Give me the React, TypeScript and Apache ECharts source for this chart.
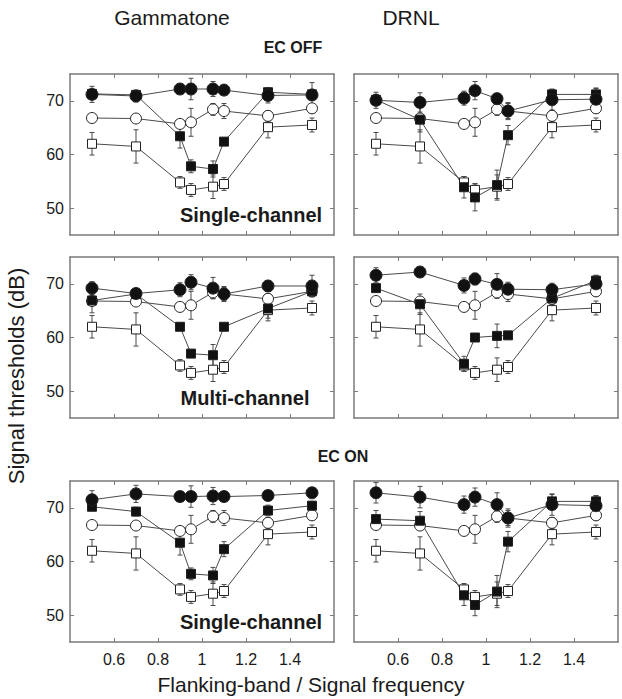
import React, { useEffect, useRef } from "react";
import * as echarts from "echarts";

// ---------- data ----------
const flankRatios = [0.5, 0.7, 0.9, 0.95, 1.05, 1.1, 1.3, 1.5];
const xTicks = [0.6, 0.8, 1, 1.2, 1.4];
const yTicks = [50, 60, 70];

// open symbols (same in every panel)
const openCircle = [66.8, 66.7, 65.7, 66.0, 68.4, 68.1, 67.2, 68.6];
const openCircleErr = [0.3, 0.3, 0.8, 2.6, 1.1, 1.4, 1.0, 0.9];
const openSquare = [62.0, 61.5, 54.8, 53.4, 54.0, 54.5, 65.1, 65.5];
const openSquareErr = [2.1, 3.1, 1.1, 1.2, 2.2, 1.2, 2.0, 1.3];

// Gammatone, EC OFF, single-channel
const gtOffSingleCircle = [71.2, 70.9, 72.2, 72.2, 72.2, 72.0, 71.0, 71.1];
const gtOffSingleCircleErr = [1.5, 1.1, 0.5, 2.0, 1.4, 0.5, 1.4, 2.3];
const gtOffSingleSquare = [71.3, 71.1, 63.4, 57.8, 57.3, 62.4, 71.6, 71.2];
const gtOffSingleSquareErr = [0.6, 0.6, 2.2, 1.2, 1.5, 0.5, 0.8, 0.8];

// DRNL, EC OFF, single-channel
const drOffSingleCircle = [70.1, 69.7, 70.5, 71.9, 70.4, 68.1, 70.2, 70.3];
const drOffSingleCircleErr = [1.5, 1.8, 1.3, 1.7, 1.0, 1.6, 1.9, 2.0];
const drOffSingleSquare = [70.2, 66.5, 53.9, 52.0, 54.3, 63.6, 71.2, 71.2];
const drOffSingleSquareErr = [1.0, 2.3, 2.0, 2.5, 2.8, 1.8, 1.0, 1.2];

// Gammatone, EC OFF, multi-channel
const gtOffMultiCircle = [69.2, 68.2, 68.9, 70.3, 69.2, 68.1, 69.6, 69.6];
const gtOffMultiCircleErr = [1.2, 0.8, 1.3, 1.4, 2.0, 1.2, 1.0, 2.0];
const gtOffMultiSquare = [66.9, 68.1, 62.0, 57.0, 56.7, 62.0, 65.4, 68.6];
const gtOffMultiSquareErr = [2.3, 0.7, 0.5, 0.6, 2.0, 0.6, 1.8, 1.0];

// DRNL, EC OFF, multi-channel
const drOffMultiCircle = [71.6, 72.2, 69.7, 70.9, 69.9, 69.0, 68.9, 70.0];
const drOffMultiCircleErr = [1.4, 0.5, 1.4, 1.1, 2.0, 1.3, 1.2, 1.5];
const drOffMultiSquare = [69.2, 66.2, 55.1, 60.0, 60.3, 60.4, 67.3, 70.6];
const drOffMultiSquareErr = [0.6, 1.9, 1.4, 0.6, 2.2, 0.6, 1.0, 1.0];

// Gammatone, EC ON, single-channel
const gtOnSingleCircle = [71.5, 72.6, 72.1, 72.1, 72.2, 72.1, 72.3, 72.8];
const gtOnSingleCircleErr = [1.7, 1.6, 0.5, 2.0, 1.6, 0.5, 0.5, 0.8];
const gtOnSingleSquare = [70.2, 69.3, 63.5, 57.7, 57.4, 62.3, 69.5, 70.4];
const gtOnSingleSquareErr = [0.7, 0.8, 2.3, 1.1, 1.5, 1.4, 1.0, 0.8];

// DRNL, EC ON, single-channel
const drOnSingleCircle = [72.8, 72.0, 70.6, 72.0, 70.6, 68.1, 70.6, 70.4];
const drOnSingleCircleErr = [1.9, 2.0, 1.6, 1.7, 2.2, 1.7, 2.0, 1.9];
const drOnSingleSquare = [67.9, 67.6, 53.7, 51.9, 54.4, 63.7, 71.2, 71.2];
const drOnSingleSquareErr = [1.6, 1.7, 1.9, 2.0, 3.0, 1.9, 1.3, 1.0];

const panels = [
  { col: 0, row: 0, circ: gtOffSingleCircle, circErr: gtOffSingleCircleErr, sq: gtOffSingleSquare, sqErr: gtOffSingleSquareErr },
  { col: 1, row: 0, circ: drOffSingleCircle, circErr: drOffSingleCircleErr, sq: drOffSingleSquare, sqErr: drOffSingleSquareErr },
  { col: 0, row: 1, circ: gtOffMultiCircle, circErr: gtOffMultiCircleErr, sq: gtOffMultiSquare, sqErr: gtOffMultiSquareErr },
  { col: 1, row: 1, circ: drOffMultiCircle, circErr: drOffMultiCircleErr, sq: drOffMultiSquare, sqErr: drOffMultiSquareErr },
  { col: 0, row: 2, circ: gtOnSingleCircle, circErr: gtOnSingleCircleErr, sq: gtOnSingleSquare, sqErr: gtOnSingleSquareErr },
  { col: 1, row: 2, circ: drOnSingleCircle, circErr: drOnSingleCircleErr, sq: drOnSingleSquare, sqErr: drOnSingleSquareErr },
];

// ---------- layout ----------
const COL_LEFT = [70, 354];
const ROW_TOP = [74, 257, 481];
const PW = 264;
const PH = 161;
const FONT = "'Liberation Sans', Arial, Helvetica, sans-serif";
const AXIS_COLOR = "#7a7a7a";
const TEXT_COLOR = "#1a1a1a";
const LINE_COLOR = "#4a4a4a";

function buildOption() {
  const grid: any[] = [];
  const xAxis: any[] = [];
  const yAxis: any[] = [];
  const series: any[] = [];

  panels.forEach((p, i) => {
    grid.push({ left: COL_LEFT[p.col], top: ROW_TOP[p.row], width: PW, height: PH, containLabel: false });
    const axisLine = { show: true, onZero: false, lineStyle: { color: AXIS_COLOR, width: 1.5 } };
    const tick = (vals: number[]) => ({ show: true, inside: true, length: 4, customValues: vals, lineStyle: { color: AXIS_COLOR, width: 1 } });
    xAxis.push({
      gridIndex: i, type: "value", min: 0.4, max: 1.6, position: "bottom",
      axisLine, axisTick: tick(xTicks), splitLine: { show: false },
      axisLabel: { show: p.row === 2, customValues: xTicks, margin: 9, fontSize: 16, color: TEXT_COLOR, fontFamily: FONT },
    });
    xAxis.push({
      gridIndex: i, type: "value", min: 0.4, max: 1.6, position: "top",
      axisLine, axisTick: tick(xTicks), splitLine: { show: false }, axisLabel: { show: false },
    });
    yAxis.push({
      gridIndex: i, type: "value", min: 45, max: 75, position: "left",
      axisLine, axisTick: tick(yTicks), splitLine: { show: false },
      axisLabel: { show: p.col === 0, customValues: yTicks, margin: 6, fontSize: 16, color: TEXT_COLOR, fontFamily: FONT },
    });
    yAxis.push({
      gridIndex: i, type: "value", min: 45, max: 75, position: "right",
      axisLine, axisTick: tick(yTicks), splitLine: { show: false }, axisLabel: { show: false },
    });

    const sets = [
      { vals: openSquare, err: openSquareErr, symbol: "rect", size: 9, fill: "#ffffff" },
      { vals: openCircle, err: openCircleErr, symbol: "circle", size: 11, fill: "#ffffff" },
      { vals: p.sq, err: p.sqErr, symbol: "rect", size: 9, fill: "#111111" },
      { vals: p.circ, err: p.circErr, symbol: "circle", size: 12, fill: "#111111" },
    ];
    sets.forEach((s) => {
      series.push({
        type: "custom",
        xAxisIndex: 2 * i,
        yAxisIndex: 2 * i,
        silent: true,
        data: flankRatios.map((x, j) => [x, s.vals[j] - s.err[j], s.vals[j] + s.err[j]]),
        encode: { x: 0, y: [1, 2] },
        renderItem: (params: any, api: any) => {
          const x = api.value(0);
          const lo = api.coord([x, api.value(1)]);
          const hi = api.coord([x, api.value(2)]);
          const c = 2.5;
          const st = { stroke: LINE_COLOR, lineWidth: 1 };
          return {
            type: "group",
            children: [
              { type: "line", shape: { x1: lo[0], y1: lo[1], x2: hi[0], y2: hi[1] }, style: st },
              { type: "line", shape: { x1: lo[0] - c, y1: lo[1], x2: lo[0] + c, y2: lo[1] }, style: st },
              { type: "line", shape: { x1: hi[0] - c, y1: hi[1], x2: hi[0] + c, y2: hi[1] }, style: st },
            ],
          };
        },
      });
      series.push({
        type: "line",
        xAxisIndex: 2 * i,
        yAxisIndex: 2 * i,
        silent: true,
        data: flankRatios.map((x, j) => [x, s.vals[j]]),
        symbol: s.symbol,
        symbolSize: s.size,
        showAllSymbol: true,
        lineStyle: { color: LINE_COLOR, width: 1 },
        itemStyle: { color: s.fill, borderColor: "#222222", borderWidth: 1, opacity: 1 },
        emphasis: { disabled: true },
      });
    });
  });

  const txt = (text: string, x: number, y: number, font: string, extra: any = {}) => ({
    type: "text",
    x, y,
    silent: true,
    ...extra,
    style: { text, font, fill: TEXT_COLOR, textAlign: "center", textVerticalAlign: "middle" },
  });

  const graphic = [
    txt("Gammatone", 172, 17, `21px ${FONT}`),
    txt("DRNL", 411, 17, `21px ${FONT}`),
    txt("EC OFF", 293, 47, `bold 16px ${FONT}`),
    txt("EC ON", 343, 456, `bold 16px ${FONT}`),
    txt("Single-channel", 251, 215, `bold 20px ${FONT}`),
    txt("Multi-channel", 245, 398, `bold 20px ${FONT}`),
    txt("Single-channel", 251, 622, `bold 20px ${FONT}`),
    txt("Flanking-band / Signal frequency", 311, 684, `21px ${FONT}`),
    txt("Signal thresholds (dB)", 16, 376, `22px ${FONT}`, { rotation: Math.PI / 2 }),
  ];

  return { animation: false, backgroundColor: "#ffffff", grid, xAxis, yAxis, series, graphic };
}

export default function App() {
  const ref = useRef<HTMLDivElement>(null);
  useEffect(() => {
    if (!ref.current) return;
    const chart = echarts.init(ref.current, undefined, { renderer: "svg" });
    chart.setOption(buildOption() as any);
    return () => chart.dispose();
  }, []);
  return (
    <div
      ref={ref}
      style={{ position: "absolute", left: 0, top: 0, width: 622, height: 699, background: "#fff" }}
    />
  );
}
